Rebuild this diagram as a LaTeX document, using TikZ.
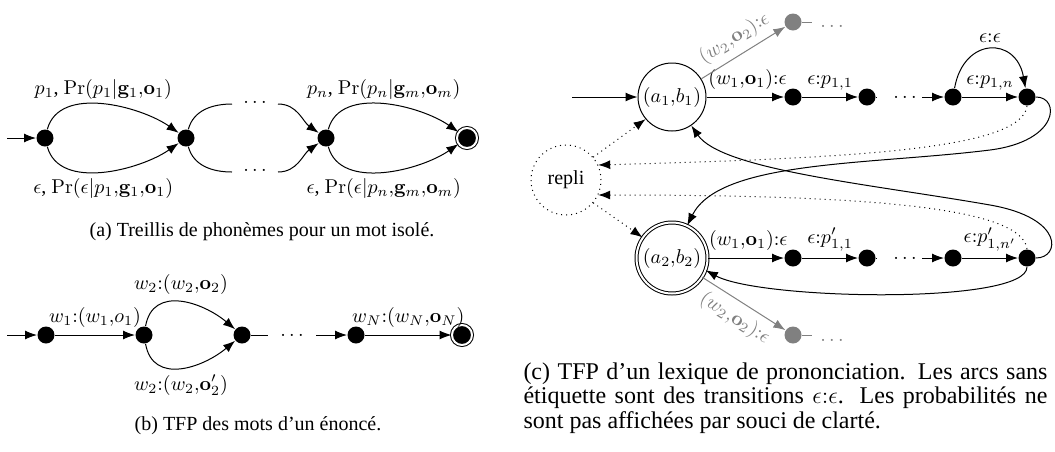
\documentclass[tikz,border=0pt]{standalone}
\usepackage[no-math]{fontspec}
\setmainfont{Liberation Serif}
\usepackage{amsmath,amssymb}
\usetikzlibrary{arrows,arrows.meta}

\begin{document}
\begin{tikzpicture}[x=0.5pt,y=-0.5pt,line width=0.5pt,>={Latex[length=6pt,width=4.5pt]},
    etat/.style={circle,fill,inner sep=0pt,minimum size=8.5pt},
    final/.style={etat,draw,double,double distance=1pt,minimum size=10pt},
    grand/.style={circle,draw,inner sep=0pt,minimum size=34pt},
    gris/.style={gray,text=gray}]
  \useasboundingbox (0,0) rectangle (1055,451);

  % (a) treillis de phonemes
  \coordinate (a0) at (7,138);
  \node[etat] (A0) at (45,138) {};
  \node[etat] (A1) at (186,138) {};
  \node[etat] (A2) at (326,138) {};
  \node[final] (A3) at (467,138) {};
  \coordinate (ah1) at (232,104);
  \coordinate (ah2) at (278,104);
  \coordinate (ab1) at (232,172);
  \coordinate (ab2) at (278,172);
  \draw[->] (a0) -- (A0);
  \draw[->] (A0) to[out=75,in=145,looseness=0.9] node[above,inner sep=2pt] {$p_1$, $\Pr(p_1|\mathbf{g}_1{,}\mathbf{o}_1)$} (A1);
  \draw[->] (A0) to[out=-75,in=-145,looseness=0.9] node[below] {$\epsilon$, $\Pr(\epsilon|p_1{,}\mathbf{g}_1{,}\mathbf{o}_1)$} (A1);
  \draw (A1) to[out=75,in=180] (ah1);
  \draw (A1) to[out=-75,in=180] (ab1);
  \node (pa1) at (255,102) {$\ldots$};
  \node (pa2) at (255,170) {$\ldots$};
  \draw[->] (ah2) to[out=0,in=145] (A2);
  \draw[->] (ab2) to[out=0,in=-145] (A2);
  \draw[->] (A2) to[out=75,in=145,looseness=0.9] node[above,inner sep=2pt] {$p_n$, $\Pr(p_n|\mathbf{g}_m{,}\mathbf{o}_m)$} (A3);
  \draw[->] (A2) to[out=-75,in=-145,looseness=0.9] node[below] {$\epsilon$, $\Pr(\epsilon|p_n{,}\mathbf{g}_m{,}\mathbf{o}_m)$} (A3);
  \node (capa) at (262,232) {(a) Treillis de phonèmes pour un mot isolé.};

  % (b) mots d'un enonce
  \coordinate (b0) at (7,335);
  \node[etat] (B0) at (46,335) {};
  \node[etat] (B1) at (144,335) {};
  \node[etat] (B2) at (242,335) {};
  \node[etat] (B3) at (356,335) {};
  \node[final] (B4) at (462,335) {};
  \coordinate (bq) at (268,335);
  \coordinate (br) at (316,335);
  \draw[->] (b0) -- (B0);
  \draw[->] (B0) -- node[above] {$w_1{:}(w_1{,}o_1)$} (B1);
  \draw[->] (B1) to[out=80,in=140,looseness=1.2] node[above] {$w_2{:}(w_2{,}\mathbf{o}_2)$} (B2);
  \draw[->] (B1) to[out=-80,in=-140,looseness=1.2] node[below] {$w_2{:}(w_2{,}\mathbf{o}'_2)$} (B2);
  \draw (B2) -- (bq);
  \node (pb) at (292,335) {$\ldots$};
  \draw[->] (br) -- (B3);
  \draw[->] (B3) -- node[above] {$w_N{:}(w_N{,}\mathbf{o}_N)$} (B4);
  \node (capb) at (258,426) {(b) TFP des mots d'un énoncé.};

  % (c) lexique de prononciation
  \coordinate (c0) at (572,97);
  \node[grand] (s1) at (672,97) {$(a_1{,}b_1)$};
  \node[grand,double,double distance=1pt,minimum size=35.5pt] (s2) at (672,258) {$(a_2{,}b_2)$};
  \node[grand,dotted,minimum size=35pt] (repli) at (566,180) {repli};
  \node[etat] (n11) at (793,97) {};
  \node[etat] (n12) at (867,97) {};
  \node[etat] (n13) at (953,97) {};
  \node[etat] (n14) at (1027,97) {};
  \node[etat] (n21) at (793,258) {};
  \node[etat] (n22) at (867,258) {};
  \node[etat] (n23) at (953,258) {};
  \node[etat] (n24) at (1027,258) {};
  \node[etat,gray] (g1) at (793,22) {};
  \node[etat,gray] (g2) at (793,335) {};
  \coordinate (q1) at (877,97);
  \coordinate (r1) at (922,97);
  \coordinate (q2) at (877,258);
  \coordinate (r2) at (922,258);
  \coordinate (gq1) at (812,22);
  \coordinate (gq2) at (812,335);

  \draw[->] (c0) -- (s1);
  \draw[->] (s1) -- node[above,pos=0.53] {$(w_1{,}\mathbf{o}_1){:}\epsilon$} (n11);
  \draw[->] (n11) -- node[above] {$\epsilon{:}p_{1,1}$} (n12);
  \draw (n12) -- (q1);
  \node (pc1) at (905,97) {$\ldots$};
  \draw[->] (r1) -- (n13);
  \draw[->] (n13) -- node[above] {$\epsilon{:}p_{1,n}$} (n14);
  \draw[->] (n13) to[out=80,in=100,looseness=1.9] node[above] {$\epsilon{:}\epsilon$} (n14);

  \draw[->] (s2) -- node[above,pos=0.53] {$(w_1{,}\mathbf{o}_1){:}\epsilon$} (n21);
  \draw[->] (n21) -- node[above] {$\epsilon{:}p'_{1,1}$} (n22);
  \draw (n22) -- (q2);
  \node (pc2) at (905,258) {$\ldots$};
  \draw[->] (r2) -- (n23);
  \draw[->] (n23) -- node[above] {$\epsilon{:}p'_{1,n'}$} (n24);

  \draw[gris,->] (s1) -- node[above,sloped,pos=0.5] {$(w_2{,}\mathbf{o}_2){:}\epsilon$} (g1);
  \draw[gris] (g1) -- (gq1);
  \node[gris] (pg1) at (832,26) {$\ldots$};
  \draw[gris,->] (s2) -- node[below,sloped,pos=0.5] {$(w_2{,}\mathbf{o}_2){:}\epsilon$} (g2);
  \draw[gris] (g2) -- (gq2);
  \node[gris] (pg2) at (832,340) {$\ldots$};

  \draw[->] (n14.east) .. controls (1060,97) and (1060,141) .. (990,150) .. controls (870,165) and (720,160) .. (s2.65);
  \draw[->] (n24.east) .. controls (1060,258) and (1065,218) .. (990,205) .. controls (870,184) and (722,170) .. (s1.-56);
  \draw[->] (n24.south) .. controls (1027,305) and (760,300) .. (s2.-20);
  \draw[->,dotted] (n14.south) .. controls (1022,150) and (850,158) .. (repli.25);
  \draw[->,dotted] (n24.north) .. controls (1022,205) and (850,195) .. (repli.-25);
  \draw[->,dotted] (repli.40) -- (s1.-140);
  \draw[->,dotted] (repli.-40) -- (s2.145);

  \node[text width=262pt,align=justify,anchor=north west,inner sep=0pt,font=\fontsize{12}{12.3}\selectfont] (capc) at (523,362) {(c) TFP d'un lexique de prononciation. Les arcs sans\linebreak étiquette sont des transitions $\epsilon{:}\epsilon$. Les probabilités ne\linebreak sont pas affichées par souci de clarté.};
\end{tikzpicture}
\end{document}
